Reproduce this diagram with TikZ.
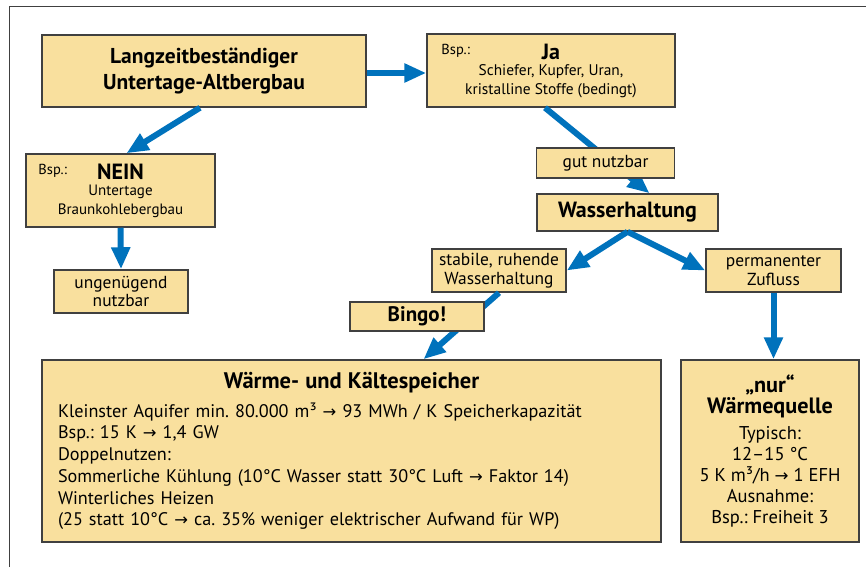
\documentclass[tikz,border=0pt]{standalone}
\usepackage{fontspec}
\setmainfont{PT Sans}
\newfontfamily\symfont{DejaVu Sans}[Scale=0.9]
\usepackage{tikz}
\usetikzlibrary{arrows.meta, positioning, calc}
\definecolor{boxfill}{RGB}{249,224,158}
\definecolor{flowblue}{RGB}{0,114,188}
\definecolor{framegray}{RGB}{64,64,64}
\newcommand{\ra}{{\symfont\char"2192}}
\newcommand{\fs}[2]{\fontsize{#1}{#2}\selectfont}
\frenchspacing

\begin{document}
\begin{tikzpicture}[
  x=1pt, y=-1pt,
  every node/.style={font=\fs{17.4}{18.5}},
  box/.style={rectangle, draw=framegray, line width=1.5pt, fill=boxfill, align=center, inner sep=0pt},
  bsp/.style={anchor=north west, inner sep=0pt, font=\fs{14.5}{16}, xshift=15pt, yshift=-11pt},
  arrow/.style={-{Triangle[length=22pt, width=18pt]}, line width=6pt, draw=flowblue}
]
\useasboundingbox (0,0) rectangle (866,567);

% Frame
\draw[framegray, line width=1.6pt] (9.5,567) |- (866,6.5);

% Top row
\node[box, minimum width=324pt, minimum height=72pt, font=\bfseries\fs{21.5}{26}] (altberg) at (204,71) {Langzeitbeständiger\\ Untertage-Altbergbau};
\node[box, minimum width=248pt, minimum height=73pt, label={[bsp]north west:Bsp.:}] (ja) at (551,70.5)
  {{\bfseries\fs{22}{24}Ja}\\[-2pt] {\fs{15.4}{18.5}Schiefer, Kupfer, Uran,}\\ {\fs{15.4}{18.5}kristalline Stoffe (bedingt)}};

% Left branch
\node[box, minimum width=189pt, minimum height=73pt, label={[bsp, xshift=-2pt]north west:Bsp.:}] (nein) at (120.5,190.5)
  {{\bfseries\fs{22}{24}NEIN}\\[-2pt] {\fs{15}{18}Untertage}\\ {\fs{15}{18}Braunkohlebergbau}};
\node[box, minimum width=134pt, minimum height=43pt] (ungen) at (121,291.5) {ungenügend\\ nutzbar};

% Right branch
\node[box, minimum width=181pt, minimum height=37pt, font=\bfseries\fs{22}{24}] (wasser) at (627.5,212.5) {Wasserhaltung};
\node[box, minimum width=134pt, minimum height=43pt] (stabile) at (499,270.5) {stabile, ruhende\\ Wasserhaltung};
\node[box, minimum width=135pt, minimum height=43pt] (zufluss) at (773.5,270.5) {permanenter\\ Zufluss};

% Result boxes
\node[box, minimum width=619pt, minimum height=182pt, text width=587pt, align=left, font=\fs{18.2}{21.7}] (speicher) at (351.5,451)
  {\makebox[\hsize]{\bfseries\fs{22.5}{26}Wärme- und Kältespeicher}\\[7pt]
   Kleinster Aquifer min. 80.000 m³ \ra{} 93 MWh / K Speicherkapazität\\
   Bsp.: 15 K \ra{} 1,4 GW\\
   Doppelnutzen:\\
   Sommerliche Kühlung (10°C Wasser statt 30°C Luft \ra{} Faktor 14)\\
   Winterliches Heizen\\
   (25 statt 10°C \ra{} ca. 35\% weniger elektrischer Aufwand für WP)};
\node[box, minimum width=178pt, minimum height=182pt, font=\fs{18.5}{21}] (quelle) at (770,451)
  {{\bfseries\fs{22.2}{24}„nur“}\\ {\bfseries\fs{22.2}{24}Wärmequelle}\\[5pt]
   Typisch:\\ 12–15 °C\\ 5 K m³/h \ra{} 1 EFH\\ Ausnahme:\\ Bsp.: Freiheit 3};

% Arrows
\draw[arrow] ([yshift=-2pt]altberg.east) -- ([yshift=-2pt]altberg.east -| ja.west);
\draw[arrow] ([xshift=-4pt]altberg.south) -- ([xshift=6pt]nein.north);
\draw[arrow] (nein.south) -- (ungen.north);
\draw[arrow] ([xshift=-6pt]ja.south) -- ([xshift=22pt]wasser.north)
  node[box, pos=0.647, xshift=-7pt, minimum width=138pt, minimum height=30pt] (gut) {gut nutzbar};
\draw[arrow] (wasser.south) -- (stabile.east);
\draw[arrow] (wasser.south) -- (zufluss.west);
\draw[arrow] (stabile.south) -- ([xshift=72pt]speicher.north)
  node[box, pos=0.36, xshift=-55pt, minimum width=134pt, minimum height=29pt, font=\bfseries\fs{21}{24}] (bingo) {Bingo!};
\draw[arrow] (zufluss.south) -- (zufluss.south |- quelle.north);

\end{tikzpicture}
\end{document}
